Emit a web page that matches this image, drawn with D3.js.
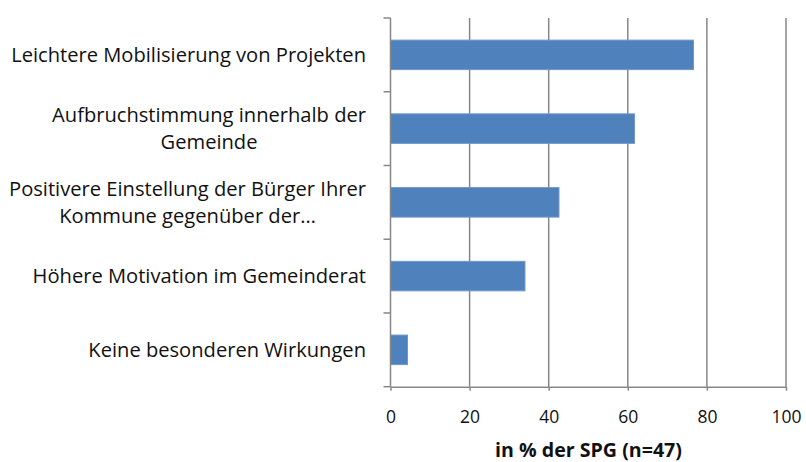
<!DOCTYPE html>
<html><head><meta charset="utf-8">
<script src="https://cdn.jsdelivr.net/npm/d3@7"></script>
<style>body{margin:0;background:#fff}svg{display:block}</style>
</head><body>
<svg id="c" width="806" height="462"></svg>
<script>
const categories = [
  ["Leichtere Mobilisierung von Projekten"],
  ["Aufbruchstimmung innerhalb der", "Gemeinde"],
  ["Positivere Einstellung der Bürger Ihrer", "Kommune gegenüber der…"],
  ["Höhere Motivation im Gemeinderat"],
  ["Keine besonderen Wirkungen"]
];
const values = [76.6, 61.7, 42.6, 34.0, 4.3];
const xTicks = [0, 20, 40, 60, 80, 100];
const xTitle = "in % der SPG (n=47)";

const font = "'Open Sans', sans-serif";
const svg = d3.select("#c");
const x = d3.scaleLinear().domain([0, 100]).range([390.5, 786]);
const y = d3.scaleBand().domain(d3.range(categories.length)).range([18, 386.7]).paddingInner(0.6).paddingOuter(0.3);
const gridColor = "#878787";
const textColor = "#111";

// fit a font size so a text reaches a target width
function fitSize(str, target, weight) {
  const t = svg.append("text").attr("font-family", font).attr("font-size", 20)
    .attr("font-weight", weight || "normal").text(str);
  const w = t.node().getComputedTextLength();
  t.remove();
  return 20 * target / w;
}
const labSize = fitSize(categories[0][0], 355);
const titleSize = fitSize(xTitle, 187, "bold");
const tickFont = 17.5;

// gridlines
svg.append("g").selectAll("line").data(xTicks.slice(1)).join("line")
  .attr("x1", d => x(d)).attr("x2", d => x(d))
  .attr("y1", 18).attr("y2", 386.7)
  .attr("stroke", gridColor).attr("stroke-width", 1.5);

// bars
svg.append("g").selectAll("rect").data(values).join("rect")
  .attr("x", x(0)).attr("y", (d, i) => y(i))
  .attr("width", d => x(d) - x(0)).attr("height", y.bandwidth())
  .attr("fill", "#4F81BD").attr("stroke", "#6E97CA").attr("stroke-width", 1);

// x axis
const xa = svg.append("g").attr("transform", "translate(0,386.7)")
  .call(d3.axisBottom(x).tickValues(xTicks).tickSize(4).tickSizeOuter(0));
xa.select(".domain").attr("stroke", gridColor).attr("stroke-width", 1.5);
xa.selectAll(".tick line").attr("stroke", gridColor).attr("stroke-width", 1.5);
xa.selectAll(".tick text").attr("font-family", font).attr("font-size", tickFont)
  .attr("fill", textColor).attr("y", 0).attr("dy", 0).attr("transform", "translate(0,36)");

// y axis
const yTickPos = d3.range(categories.length + 1).map(i => 18 + i * y.step());
const ya = svg.append("g");
ya.append("line").attr("x1", x(0)).attr("x2", x(0)).attr("y1", 18).attr("y2", 386.7)
  .attr("stroke", gridColor).attr("stroke-width", 1.5);
ya.selectAll("line.t").data(yTickPos).join("line").attr("class", "t")
  .attr("x1", x(0) - 7).attr("x2", x(0)).attr("y1", d => d).attr("y2", d => d)
  .attr("stroke", gridColor).attr("stroke-width", 1.5);

// category labels
const lineH = 26.5;
const lab = svg.append("g").attr("font-family", font).attr("font-size", labSize).attr("fill", textColor);
categories.forEach((lines, i) => {
  const cy = y(i) + y.bandwidth() / 2;
  const t = lab.append("text").attr("text-anchor", "middle");
  lines.forEach((l, j) => {
    t.append("tspan").attr("x", 0).attr("y", cy + (j - (lines.length - 1) / 2) * lineH).attr("dy", "0.35em").text(l);
  });
  const w = t.node().getBBox().width;
  t.selectAll("tspan").attr("x", 366 - w / 2);
});

// x title
svg.append("text").attr("x", 588.5).attr("y", 450).attr("dy", "0.35em")
  .attr("text-anchor", "middle").attr("font-family", font).attr("font-size", titleSize)
  .attr("font-weight", "bold").attr("fill", textColor).text(xTitle);
</script>
</body></html>
